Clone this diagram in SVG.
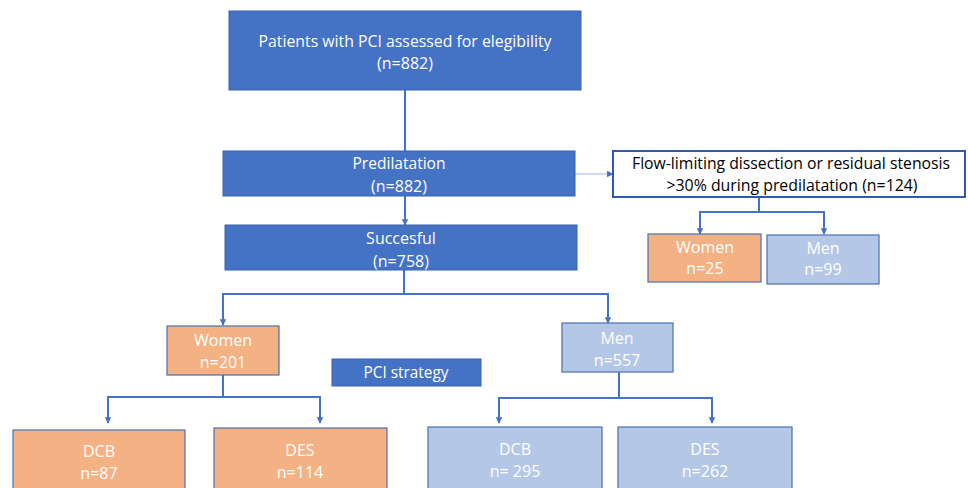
<svg xmlns="http://www.w3.org/2000/svg" width="968" height="488" viewBox="0 0 968 488">
<style>
.t{font-family:"Open Sans","Liberation Sans",sans-serif;font-size:16px;text-anchor:middle;fill:#ffffff}
.tk{font-family:"Open Sans","Liberation Sans",sans-serif;font-size:16px;text-anchor:middle;fill:#000000}
.dark{fill:#4472C4;stroke:#3A63AE;stroke-width:1}
.or{fill:#F4B183;stroke:#4A6FB0;stroke-width:1.2}
.lb{fill:#B4C7E7;stroke:#4A6FB0;stroke-width:1.2}
.c{fill:none;stroke:#4472C4;stroke-width:2}
</style>
<defs>
<marker id="ah" viewBox="0 0 10 10" refX="9" refY="5" markerWidth="3.2" markerHeight="3.2" orient="auto" markerUnits="strokeWidth">
<path d="M0,0 L10,5 L0,10 z" fill="#4472C4"/>
</marker>
<marker id="ahs" viewBox="0 0 10 10" refX="9" refY="5" markerWidth="7" markerHeight="7" orient="auto" markerUnits="strokeWidth">
<path d="M0,0 L10,5 L0,10 z" fill="#4472C4"/>
</marker>
</defs>
<g id="connectors">
<path class="c" d="M405,90 V151"/>
<path class="c" d="M405,196 V225" marker-end="url(#ah)"/>
<path d="M575,174 H613" fill="none" stroke="#9FB6E2" stroke-width="1" marker-end="url(#ahs)"/>
<path class="c" d="M759,197 V212 H700 V234" marker-end="url(#ah)"/>
<path class="c" d="M759,212 H824 V234" marker-end="url(#ah)"/>
<path class="c" d="M404,270 V294 H223 V325" marker-end="url(#ah)"/>
<path class="c" d="M404,294 H608 V323" marker-end="url(#ah)"/>
<path class="c" d="M223,375 V397 H108 V423" marker-end="url(#ah)"/>
<path class="c" d="M223,397 H320 V423" marker-end="url(#ah)"/>
<path class="c" d="M619,372 V398 H499 V423" marker-end="url(#ah)"/>
<path class="c" d="M619,398 H712 V423" marker-end="url(#ah)"/>
</g>
<g id="assessed">
<rect class="dark" x="229" y="11" width="352" height="79"/>
<text class="t" x="405" y="47" textLength="293" lengthAdjust="spacingAndGlyphs">Patients with PCI assessed for elegibility</text>
<text class="t" x="405" y="69">(n=882)</text>
</g>
<g id="predilatation">
<rect class="dark" x="223" y="151" width="352" height="45"/>
<text class="t" x="399" y="169" textLength="93" lengthAdjust="spacingAndGlyphs">Predilatation</text>
<text class="t" x="399" y="192">(n=882)</text>
</g>
<g id="successful">
<rect class="dark" x="225" y="225" width="352" height="45"/>
<text class="t" x="401" y="244">Succesful</text>
<text class="t" x="401" y="267">(n=758)</text>
</g>
<g id="flowlimiting">
<rect x="613" y="151" width="352" height="46" fill="#ffffff" stroke="#2F5AA8" stroke-width="2"/>
<text class="tk" x="791" y="169" textLength="318" lengthAdjust="spacingAndGlyphs">Flow-limiting dissection or residual stenosis</text>
<text class="tk" x="792" y="191" textLength="251" lengthAdjust="spacingAndGlyphs">&gt;30% during predilatation (n=124)</text>
</g>
<g id="women-fl">
<rect class="or" x="648" y="234" width="113" height="48"/>
<text class="t" x="705" y="253">Women</text>
<text class="t" x="705" y="274">n=25</text>
</g>
<g id="men-fl">
<rect class="lb" x="767" y="235" width="112" height="49"/>
<text class="t" x="823" y="254">Men</text>
<text class="t" x="823" y="275">n=99</text>
</g>
<g id="women">
<rect class="or" x="167" y="326" width="112" height="49"/>
<text class="t" x="223" y="346">Women</text>
<text class="t" x="223" y="368">n=201</text>
</g>
<g id="men">
<rect class="lb" x="562" y="323" width="111" height="49"/>
<text class="t" x="617" y="344">Men</text>
<text class="t" x="617" y="366">n=557</text>
</g>
<g id="pci-strategy">
<rect class="dark" x="332" y="359" width="149" height="27"/>
<text class="t" x="406" y="378" textLength="85" lengthAdjust="spacingAndGlyphs">PCI strategy</text>
</g>
<g id="women-dcb">
<rect class="or" x="13" y="430" width="172" height="70"/>
<text class="t" x="99" y="457">DCB</text>
<text class="t" x="99" y="479">n=87</text>
</g>
<g id="women-des">
<rect class="or" x="214" y="428" width="173" height="72"/>
<text class="t" x="300" y="456">DES</text>
<text class="t" x="300" y="478">n=114</text>
</g>
<g id="men-dcb">
<rect class="lb" x="428" y="427" width="174" height="73"/>
<text class="t" x="515" y="455">DCB</text>
<text class="t" x="515" y="477">n= 295</text>
</g>
<g id="men-des">
<rect class="lb" x="618" y="427" width="174" height="73"/>
<text class="t" x="705" y="455">DES</text>
<text class="t" x="705" y="477">n=262</text>
</g>
</svg>
